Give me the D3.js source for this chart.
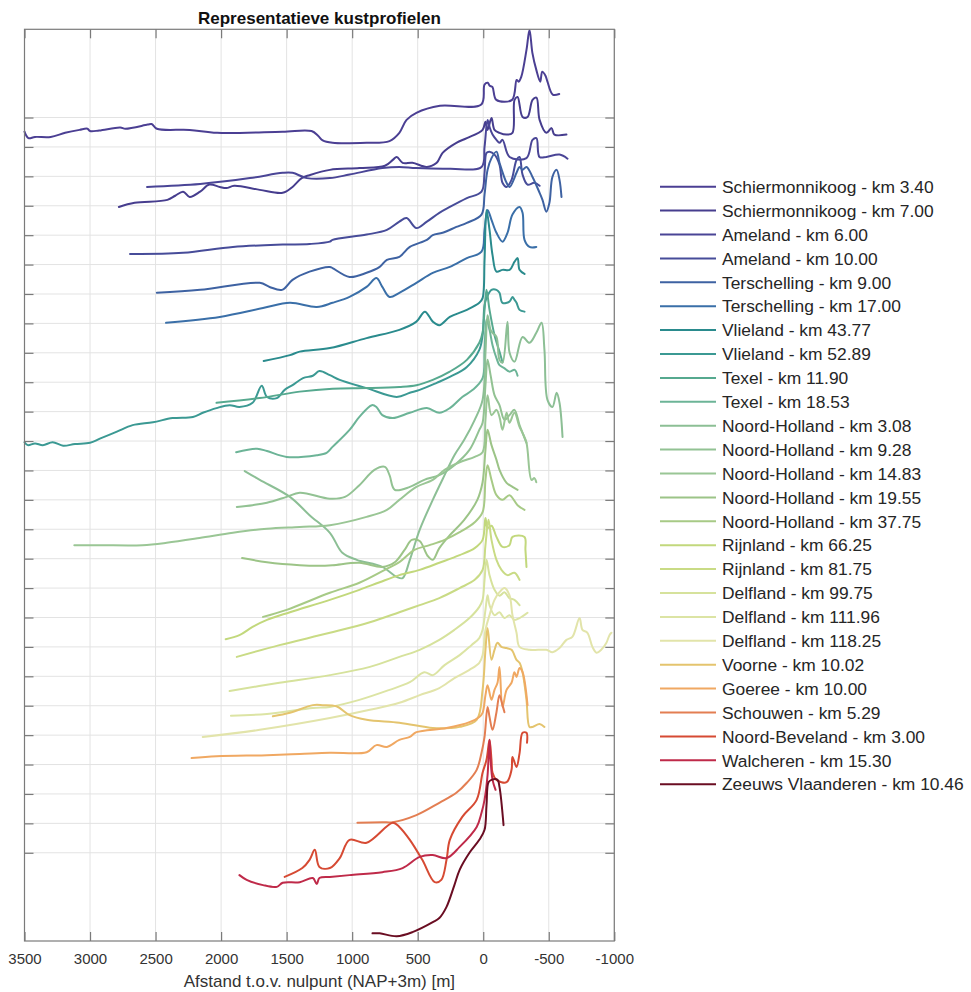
<!DOCTYPE html>
<html>
<head>
<meta charset="utf-8">
<script src="https://cdn.jsdelivr.net/npm/d3@7"></script>
<style>
  body { margin: 0; background: #fff; }
  text { font-family: "Liberation Sans", Arial, Helvetica, sans-serif; }
</style>
</head>
<body>
<svg id="chart" width="971" height="992"></svg>
<script>
// Representative cross-shore profiles along the Dutch coast.
// x: distance relative to the NAP+3m crossing [m] (positive = seaward)
// z: bed level [m NAP]; each profile is shifted down by levelStep * index.

const profileNames = [
  "Schiermonnikoog - km 3.40", "Schiermonnikoog - km 7.00", "Ameland - km 6.00", "Ameland - km 10.00",
  "Terschelling - km 9.00", "Terschelling - km 17.00", "Vlieland - km 43.77", "Vlieland - km 52.89",
  "Texel - km 11.90", "Texel - km 18.53", "Noord-Holland - km 3.08", "Noord-Holland - km 9.28",
  "Noord-Holland - km 14.83", "Noord-Holland - km 19.55", "Noord-Holland - km 37.75", "Rijnland - km 66.25",
  "Rijnland - km 81.75", "Delfland - km 99.75", "Delfland - km 111.96", "Delfland - km 118.25",
  "Voorne - km 10.02", "Goeree - km 10.00", "Schouwen - km 5.29", "Noord-Beveland - km 3.00",
  "Walcheren - km 15.30", "Zeeuws Vlaanderen - km 10.46"
];

const profileColors = [
  "#4b3f93", "#463d8e", "#4a4596", "#474c99", "#3e62a2", "#3a6fa8", "#2a8b8d", "#3b9993",
  "#56a98f", "#6cb497", "#8cbf95", "#92c293", "#9ac695", "#9cc487", "#a7ca86", "#c2d87c",
  "#c9db85", "#d6e29c", "#dce4a4", "#e2e4aa", "#e4c46e", "#f0a862", "#e37e52", "#d64a33",
  "#bf2a49", "#6a0d22"
];

const levelStep = 5;
const xTicks = [3500, 3000, 2500, 2000, 1500, 1000, 500, 0, -500, -1000];

const schiermonnikoog340 = [[3500,-2.4],[3470,-3.5],[3420,-3.3],[3300,-3.3],[3190,-2.6],[3080,-2.1],[3020,-1.9],[3000,-2.3],[2930,-2.2],[2770,-1.7],[2730,-1.9],[2560,-1.2],[2530,-1.1],[2490,-1.9],[2240,-2.1],[2030,-2.6],[1530,-2.4],[1310,-2.3],[1260,-3.1],[1225,-3.9],[1150,-4.3],[890,-4.3],[715,-4.0],[640,-2.6],[585,-0.4],[510,0.8],[330,2.0],[15,2.2],[-10,5.6],[-35,5.9],[-50,5.4],[-70,5.2],[-100,3.0],[-220,3.0],[-255,6.4],[-270,6.1],[-290,6.9],[-330,11.5],[-353,14.9],[-375,11.0],[-405,8.1],[-435,6.1],[-450,7.8],[-475,7.1],[-490,6.1],[-530,3.9],[-580,4.0]];
const schiermonnikoog700 = [[2780,-10.2],[2660,-9.5],[2410,-9.0],[2350,-8.3],[2290,-7.6],[2240,-8.5],[2160,-7.6],[2090,-6.4],[2010,-6.8],[1960,-7.0],[1900,-6.6],[1705,-7.3],[1530,-7.8],[1455,-6.8],[1385,-5.3],[1325,-4.8],[1170,-3.9],[945,-3.6],[750,-3.2],[690,-2.2],[660,-1.7],[615,-2.7],[540,-2.7],[430,-3.4],[355,-2.7],[310,-1.0],[205,0.7],[125,1.5],[5,2.9],[-17,4.3],[-33,2.9],[-63,4.9],[-86,2.9],[-124,2.4],[-178,2.1],[-223,2.4],[-239,8.0],[-262,8.5],[-300,5.1],[-338,5.1],[-376,8.0],[-406,8.4],[-430,4.6],[-482,2.4],[-521,3.2],[-543,2.1],[-635,2.1]];
const ameland600 = [[2565,-1.8],[2160,-1.3],[1780,-0.3],[1530,0.6],[1455,0.6],[1345,-0.3],[1170,-0.3],[1020,0.3],[770,1.4],[640,1.6],[510,1.4],[255,1.3],[13,1.6],[-10,5.0],[-33,9.6],[-48,8.4],[-71,7.1],[-101,6.2],[-124,5.7],[-147,6.2],[-201,3.3],[-330,3.1],[-376,6.2],[-406,6.5],[-429,3.3],[-482,3.3],[-582,3.7],[-643,3.0]];
const ameland1000 = [[2695,-8.2],[2290,-8.0],[1910,-7.0],[1530,-6.6],[1325,-6.5],[1170,-6.1],[1150,-5.8],[890,-4.9],[735,-4.1],[640,-2.7],[585,-2.1],[510,-3.8],[430,-2.7],[335,-1.2],[255,-0.2],[125,1.3],[13,2.4],[-10,5.6],[-25,9.0],[-48,9.2],[-86,8.7],[-124,7.0],[-147,3.9],[-178,3.2],[-216,4.4],[-254,7.8],[-277,8.3],[-300,5.3],[-338,3.6],[-390,3.9],[-430,3.4]];
const terschelling900 = [[2490,-9.8],[2160,-9.3],[1705,-8.1],[1630,-8.8],[1535,-9.3],[1455,-7.6],[1325,-6.2],[1170,-5.4],[1150,-5.6],[1020,-7.1],[890,-6.4],[790,-5.4],[735,-4.2],[640,-3.7],[560,-2.0],[430,-0.8],[385,0.0],[310,0.4],[205,1.4],[125,2.1],[13,3.5],[-10,6.9],[-33,11.1],[-63,13.1],[-101,14.2],[-124,12.3],[-178,8.9],[-201,8.2],[-254,10.6],[-277,11.6],[-300,11.1],[-330,11.6],[-376,9.9],[-430,7.2],[-452,6.0],[-482,4.0],[-505,5.5],[-528,9.9],[-560,11.1],[-582,9.4],[-597,6.5]];
const terschelling1700 = [[2420,-9.9],[2010,-8.9],[1680,-7.4],[1475,-6.5],[1270,-7.2],[1150,-6.5],[1020,-5.5],[890,-3.8],[815,-2.3],[770,-3.8],[715,-5.5],[640,-4.8],[510,-3.1],[385,-1.4],[255,-0.4],[125,1.1],[13,2.2],[-10,5.9],[-33,9.3],[-63,7.6],[-101,5.4],[-147,3.9],[-185,5.4],[-223,8.5],[-277,9.8],[-300,8.8],[-315,4.2],[-353,3.0],[-405,3.0]];
const vlieland4377 = [[1675,-11.4],[1475,-10.4],[1400,-9.8],[1170,-9.2],[890,-7.5],[640,-6.1],[510,-4.7],[445,-3.0],[385,-4.7],[335,-5.3],[255,-3.9],[125,-2.7],[30,-1.5],[5,-0.7],[-10,5.8],[-25,14.3],[-48,10.9],[-71,6.6],[-101,3.8],[-147,4.1],[-201,4.1],[-239,5.5],[-262,6.1],[-277,4.1],[-315,3.4]];
const vlieland5289 = [[3500,-20.2],[3475,-20.7],[3420,-20.4],[3360,-20.7],[3285,-20.2],[3205,-20.8],[3115,-20.5],[3000,-20.3],[2925,-19.6],[2795,-18.4],[2675,-17.3],[2520,-16.8],[2370,-16.1],[2215,-15.9],[2140,-15.2],[2035,-14.4],[1935,-13.9],[1860,-14.2],[1760,-13.5],[1690,-10.6],[1650,-12.5],[1575,-12.7],[1515,-11.3],[1455,-10.5],[1375,-9.3],[1300,-8.9],[1250,-8.1],[1170,-8.8],[1095,-9.6],[890,-11.0],[660,-12.5],[560,-11.8],[485,-11.3],[355,-10.1],[255,-9.1],[125,-7.4],[30,-4.5],[5,-2.0],[-10,3.1],[-25,4.3],[-63,5.7],[-101,5.7],[-124,5.2],[-147,3.5],[-200,3.7],[-223,4.5],[-239,4.0],[-254,3.5],[-277,2.3],[-315,2.0]];
const texel1190 = [[2035,-8.5],[1705,-7.7],[1400,-6.6],[1150,-6.1],[890,-6.0],[640,-5.8],[510,-5.5],[385,-4.6],[255,-3.2],[125,-1.2],[30,1.7],[5,3.4],[-10,7.3],[-25,10.7],[-48,7.3],[-86,3.0],[-124,0.2],[-147,-1.6]];
const texel1853 = [[1885,-11.9],[1725,-11.3],[1650,-11.7],[1500,-12.7],[1270,-12.4],[1195,-12.0],[1150,-11.0],[1020,-8.1],[945,-5.9],[850,-3.9],[815,-4.2],[770,-5.6],[690,-6.1],[560,-5.2],[430,-4.4],[335,-5.2],[255,-4.4],[160,-2.5],[80,-1.3],[5,0.7],[-10,5.5],[-25,10.6],[-48,8.9],[-71,6.3],[-101,4.1],[-124,2.9],[-160,2.4],[-200,1.8],[-240,2.1],[-262,1.1]];
const noordHolland308 = [[1820,-10.1],[1705,-11.6],[1475,-14.5],[1325,-17.6],[1170,-20.6],[1075,-24.0],[965,-25.2],[770,-26.4],[660,-28.1],[615,-28.3],[560,-25.2],[485,-20.1],[385,-15.0],[295,-10.8],[220,-7.4],[145,-4.8],[65,-1.4],[5,2.0],[-18,10.5],[-33,16.4],[-56,13.9],[-71,13.4],[-101,12.7],[-124,8.8],[-147,8.3],[-185,15.3],[-201,10.0],[-239,8.5],[-300,12.7],[-353,11.7],[-405,13.4],[-445,15.1],[-467,10.5],[-490,2.0],[-528,0.8],[-560,3.2],[-582,1.5],[-605,-4.3]];
const noordHolland928 = [[1880,-11.2],[1760,-10.9],[1650,-10.5],[1500,-9.5],[1400,-8.8],[1170,-9.8],[1055,-9.5],[945,-7.5],[830,-4.9],[750,-4.4],[715,-5.8],[675,-8.3],[560,-7.8],[450,-6.6],[335,-5.8],[220,-4.1],[105,-1.5],[30,1.9],[5,3.1],[-17,9.5],[-33,13.8],[-56,11.2],[-86,7.8],[-124,6.1],[-162,3.6],[-200,4.4],[-238,5.3],[-277,2.7],[-330,-0.3]];
const noordHolland1483 = [[3120,-12.7],[2925,-12.7],[2600,-12.7],[2415,-12.3],[2165,-11.5],[1910,-10.6],[1650,-9.9],[1400,-9.6],[1170,-9.3],[890,-7.9],[735,-6.7],[640,-5.0],[510,-2.8],[385,-1.6],[295,0.1],[180,1.4],[65,2.3],[5,3.1],[-17,8.6],[-33,12.8],[-63,9.4],[-101,10.3],[-124,9.1],[-147,6.9],[-178,9.8],[-200,8.1],[-238,9.8],[-277,7.4],[-300,6.4],[-330,4.7],[-368,-1.6],[-390,-1.3],[-405,-2.0]];
const noordHolland1955 = [[1840,-9.9],[1650,-10.6],[1400,-11.1],[1250,-11.2],[1150,-11.1],[945,-10.7],[770,-11.4],[675,-10.6],[600,-8.5],[545,-6.8],[485,-7.0],[425,-9.5],[385,-10.2],[335,-8.2],[255,-6.0],[145,-3.4],[45,0.0],[5,3.0],[-17,8.5],[-33,11.9],[-63,9.3],[-101,6.8],[-124,5.1],[-178,2.9],[-223,2.2],[-262,1.7]];
const noordHolland3775 = [[1680,-14.9],[1500,-13.7],[1170,-10.8],[945,-9.1],[750,-6.9],[640,-5.6],[525,-3.5],[410,-2.7],[295,-1.8],[180,-0.5],[65,1.2],[5,2.9],[-17,8.4],[-33,10.9],[-63,8.4],[-101,5.8],[-147,5.0],[-200,5.8],[-262,4.1],[-315,3.3]];
const rijnland6625 = [[1965,-13.7],[1860,-13.0],[1760,-11.6],[1650,-10.4],[1475,-9.1],[1170,-7.0],[945,-5.3],[790,-4.0],[640,-2.8],[485,-1.9],[335,-0.7],[180,0.6],[65,1.8],[5,3.2],[-17,6.9],[-33,5.2],[-63,5.6],[-101,3.7],[-147,2.0],[-200,2.3],[-223,3.7],[-315,3.7],[-322,1.5],[-330,-1.4]];
const rijnland8175 = [[1880,-11.7],[1555,-9.7],[1170,-7.6],[865,-5.8],[640,-4.1],[485,-2.9],[335,-1.7],[180,0.0],[65,1.4],[5,3.1],[-17,7.3],[-40,11.6],[-63,8.2],[-101,4.8],[-139,3.1],[-185,2.2],[-238,2.6],[-277,1.4]];
const delfland9975 = [[1935,-12.5],[1555,-11.1],[1170,-9.8],[865,-8.4],[640,-6.7],[485,-5.5],[335,-3.8],[220,-2.1],[105,-0.1],[30,1.8],[5,3.0],[-10,6.4],[-25,9.8],[-48,7.2],[-86,4.7],[-124,3.7],[-162,4.3],[-200,3.3],[-238,3.0],[-277,2.1]];
const delfland11196 = [[1925,-11.7],[1650,-11.4],[1300,-10.4],[1170,-10.2],[945,-9.0],[715,-7.3],[560,-6.0],[450,-4.3],[385,-4.8],[295,-3.1],[180,-1.4],[90,0.3],[30,1.5],[5,2.9],[-17,6.3],[-33,8.8],[-48,7.1],[-86,5.4],[-124,5.9],[-162,4.9],[-200,5.4],[-238,4.6],[-277,4.9],[-338,5.8]];
const delfland11825 = [[2140,-10.3],[1705,-9.1],[1170,-7.1],[865,-5.7],[640,-4.5],[485,-3.2],[335,-2.0],[220,-0.3],[105,1.1],[30,2.3],[5,3.6],[-17,7.9],[-48,10.4],[-86,13.0],[-124,14.3],[-162,15.0],[-200,13.8],[-223,10.4],[-254,7.4],[-277,5.0],[-353,4.5],[-482,4.5],[-528,4.1],[-582,4.8],[-635,6.2],[-680,6.7],[-735,9.9],[-757,7.9],[-795,7.4],[-833,5.0],[-865,4.0],[-900,4.5],[-940,5.7],[-963,7.0],[-978,7.4]];
const voorne1002 = [[1605,-1.8],[1475,-1.2],[1300,0.1],[1225,0.1],[1120,-0.1],[1020,-1.6],[890,-2.4],[640,-2.9],[385,-3.8],[255,-3.8],[180,-3.6],[50,-2.4],[5,2.7],[-17,9.5],[-33,13.2],[-63,7.8],[-86,9.5],[-109,10.7],[-139,10.0],[-178,9.8],[-216,9.5],[-254,7.8],[-277,7.3],[-300,5.7],[-330,1.0],[-353,-3.6],[-376,-3.6],[-430,-3.1],[-467,-3.6]];
const goeree1000 = [[2225,-3.9],[2035,-3.6],[1650,-3.4],[1400,-3.2],[1170,-3.0],[890,-2.9],[815,-1.7],[735,-2.0],[640,-0.8],[560,-0.3],[510,0.5],[280,1.2],[105,2.2],[30,3.1],[5,3.8],[-17,6.8],[-33,8.5],[-63,6.0],[-86,7.7],[-109,8.9],[-124,11.6],[-147,4.8],[-178,7.7],[-216,8.9],[-238,10.7],[-254,9.9],[-277,11.4],[-300,10.7],[-338,5.1]];
const schouwen529 = [[960,-9.9],[770,-9.8],[690,-9.8],[510,-8.6],[335,-6.5],[205,-4.8],[125,-3.1],[50,-0.9],[13,2.0],[-10,4.7],[-33,9.8],[-48,8.1],[-71,5.9],[-101,8.9],[-124,11.8],[-147,10.1],[-162,8.9]];
const noordBeveland300 = [[1515,-14.1],[1380,-12.6],[1325,-11.2],[1285,-9.5],[1250,-12.4],[1170,-12.6],[1095,-10.9],[1020,-7.8],[890,-8.3],[690,-4.9],[640,-5.6],[560,-7.8],[465,-11.2],[370,-15.0],[320,-14.6],[280,-11.2],[255,-7.8],[160,-3.9],[50,-1.0],[5,3.6],[-25,5.8],[-48,9.2],[-63,5.8],[-71,3.6],[-101,2.4],[-178,2.0],[-216,4.1],[-223,6.3],[-254,4.6],[-277,6.9],[-300,10.4],[-330,10.4],[-334,8.7]];
const walcheren1530 = [[1860,-8.8],[1805,-9.6],[1680,-10.5],[1575,-10.8],[1530,-10.1],[1400,-10.0],[1300,-9.3],[1270,-10.3],[1250,-9.3],[1170,-9.1],[1020,-8.8],[770,-8.3],[615,-7.6],[485,-5.7],[385,-5.4],[280,-5.9],[180,-4.0],[50,-0.6],[13,1.8],[-10,4.0],[-33,8.2],[-48,14.2],[-56,10.8],[-71,7.4],[-94,5.7]];
const zeeuwsVlaanderen1046 = [[845,-13.7],[790,-13.7],[660,-14.2],[540,-13.5],[385,-11.8],[335,-11.1],[280,-9.2],[220,-5.5],[180,-2.9],[105,0.0],[30,2.2],[-10,3.9],[-25,8.1],[-40,12.0],[-63,12.4],[-109,12.4],[-124,11.2],[-155,4.7]];

const profiles = [
  schiermonnikoog340, schiermonnikoog700, ameland600, ameland1000,
  terschelling900, terschelling1700, vlieland4377, vlieland5289,
  texel1190, texel1853, noordHolland308, noordHolland928,
  noordHolland1483, noordHolland1955, noordHolland3775, rijnland6625,
  rijnland8175, delfland9975, delfland11196, delfland11825,
  voorne1002, goeree1000, schouwen529, noordBeveland300,
  walcheren1530, zeeuwsVlaanderen1046
];

// ---- layout ----
const svg = d3.select("#chart");
const plot = { left: 24.5, right: 614.3, top: 29.3, bottom: 941 };

const x = d3.scaleLinear().domain([3500, -1000]).range([plot.left, plot.right]);
const y = d3.scaleLinear().domain([-140, 15]).range([plot.bottom, plot.top]);
const yTicks = d3.range(profiles.length).map(i => -levelStep * i);

svg.append("rect").attr("width", 971).attr("height", 992).attr("fill", "#fff");

// grid
const grid = svg.append("g").attr("stroke", "#e3e3e3").attr("stroke-width", 1);
grid.selectAll(".gx").data(xTicks).join("line")
  .attr("x1", d => x(d)).attr("x2", d => x(d))
  .attr("y1", plot.top).attr("y2", plot.bottom);
grid.selectAll(".gy").data(yTicks).join("line")
  .attr("x1", plot.left).attr("x2", plot.right)
  .attr("y1", d => y(d)).attr("y2", d => y(d));

// profiles, each shifted down by its level offset
const line = d3.line()
  .curve(d3.curveCatmullRom.alpha(0.5))
  .x(d => x(d[0])).y(d => y(d[1]));
svg.append("g").attr("fill", "none").attr("stroke-width", 2)
  .attr("stroke-linejoin", "round").attr("stroke-linecap", "round")
  .selectAll("path").data(profiles).join("path")
  .attr("stroke", (d, i) => profileColors[i])
  .attr("d", (d, i) => line(d.map(p => [p[0], p[1] - levelStep * i])));

// axes (ticks pointing inward)
const axisColor = "#7a7a7a";
function styleAxis(g) {
  g.select(".domain").remove();
  g.selectAll(".tick line").attr("stroke", axisColor).attr("stroke-width", 1.2);
  g.selectAll(".tick text").attr("fill", "#333").attr("font-size", 15)
    .attr("font-family", '"Liberation Sans", Arial, sans-serif');
}
svg.append("g").attr("transform", `translate(0,${plot.bottom})`)
  .call(d3.axisBottom(x).tickValues(xTicks).tickSizeInner(-9).tickSizeOuter(0)
    .tickPadding(12).tickFormat(d => String(d)))
  .call(styleAxis);
svg.append("g").attr("transform", `translate(0,${plot.top})`)
  .call(d3.axisTop(x).tickValues(xTicks).tickSizeInner(-9).tickSizeOuter(0).tickFormat(""))
  .call(styleAxis);
svg.append("g").attr("transform", `translate(${plot.left},0)`)
  .call(d3.axisLeft(y).tickValues(yTicks).tickSizeInner(-9).tickSizeOuter(0).tickFormat(""))
  .call(styleAxis);
svg.append("g").attr("transform", `translate(${plot.right},0)`)
  .call(d3.axisRight(y).tickValues(yTicks).tickSizeInner(-9).tickSizeOuter(0).tickFormat(""))
  .call(styleAxis);

svg.append("rect")
  .attr("x", plot.left).attr("y", plot.top)
  .attr("width", plot.right - plot.left).attr("height", plot.bottom - plot.top)
  .attr("fill", "none").attr("stroke", axisColor).attr("stroke-width", 1.2);

// title and axis label
const midX = (plot.left + plot.right) / 2;
svg.append("text").attr("x", midX).attr("y", 24).attr("text-anchor", "middle")
  .attr("font-size", 17).attr("font-weight", "bold").attr("fill", "#111")
  .text("Representatieve kustprofielen");
svg.append("text").attr("x", midX).attr("y", 987).attr("text-anchor", "middle")
  .attr("font-size", 17).attr("fill", "#333")
  .text("Afstand t.o.v. nulpunt (NAP+3m) [m]");

// legend
const legend = svg.append("g");
const rowY = i => 186.7 + 23.9 * i;
legend.selectAll("line").data(profileNames).join("line")
  .attr("x1", 660).attr("x2", 716)
  .attr("y1", (d, i) => rowY(i)).attr("y2", (d, i) => rowY(i))
  .attr("stroke", (d, i) => profileColors[i]).attr("stroke-width", 2);
legend.selectAll("text").data(profileNames).join("text")
  .attr("x", 722).attr("y", (d, i) => rowY(i)).attr("dy", "0.36em")
  .attr("font-size", 17.4).attr("fill", "#262626")
  .text(d => d);
</script>
</body>
</html>
